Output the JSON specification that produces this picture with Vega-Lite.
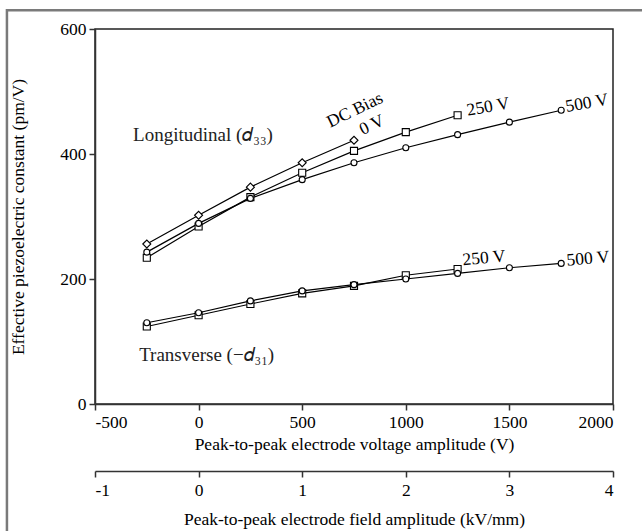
{
  "$schema": "https://vega.github.io/schema/vega-lite/v6.json",
  "width": 518,
  "height": 375,
  "autosize": {"type": "none"},
  "padding": {"left": 95, "top": 29, "right": 29, "bottom": 127},
  "background": "white",
  "config": {
    "view": {"stroke": "#222", "strokeWidth": 1.5},
    "axis": {
      "labelFont": "Liberation Serif", "labelFontSize": 17.5, "labelColor": "black",
      "titleFont": "Liberation Serif", "titleFontSize": 17.5, "titleFontWeight": "normal", "titleColor": "black",
      "domainColor": "#333", "domainWidth": 1.5, "tickColor": "#333", "tickWidth": 1.5, "tickSize": 6, "grid": false
    },
    "text": {"font": "Liberation Serif", "fontSize": 17.5}
  },
  "datasets": {
    "curves": [
      {"group": "Longitudinal", "bias": "0 V", "series": "L0", "voltage": -250, "d": 256},
      {"group": "Longitudinal", "bias": "0 V", "series": "L0", "voltage": 0, "d": 302},
      {"group": "Longitudinal", "bias": "0 V", "series": "L0", "voltage": 250, "d": 347},
      {"group": "Longitudinal", "bias": "0 V", "series": "L0", "voltage": 500, "d": 386},
      {"group": "Longitudinal", "bias": "0 V", "series": "L0", "voltage": 750, "d": 422},
      {"group": "Longitudinal", "bias": "250 V", "series": "L250", "voltage": -250, "d": 234},
      {"group": "Longitudinal", "bias": "250 V", "series": "L250", "voltage": 0, "d": 284},
      {"group": "Longitudinal", "bias": "250 V", "series": "L250", "voltage": 250, "d": 331},
      {"group": "Longitudinal", "bias": "250 V", "series": "L250", "voltage": 500, "d": 370},
      {"group": "Longitudinal", "bias": "250 V", "series": "L250", "voltage": 750, "d": 405},
      {"group": "Longitudinal", "bias": "250 V", "series": "L250", "voltage": 1000, "d": 435},
      {"group": "Longitudinal", "bias": "250 V", "series": "L250", "voltage": 1250, "d": 462},
      {"group": "Longitudinal", "bias": "500 V", "series": "L500", "voltage": -250, "d": 243},
      {"group": "Longitudinal", "bias": "500 V", "series": "L500", "voltage": 0, "d": 289},
      {"group": "Longitudinal", "bias": "500 V", "series": "L500", "voltage": 250, "d": 329},
      {"group": "Longitudinal", "bias": "500 V", "series": "L500", "voltage": 500, "d": 359},
      {"group": "Longitudinal", "bias": "500 V", "series": "L500", "voltage": 750, "d": 386},
      {"group": "Longitudinal", "bias": "500 V", "series": "L500", "voltage": 1000, "d": 410},
      {"group": "Longitudinal", "bias": "500 V", "series": "L500", "voltage": 1250, "d": 431},
      {"group": "Longitudinal", "bias": "500 V", "series": "L500", "voltage": 1500, "d": 451},
      {"group": "Longitudinal", "bias": "500 V", "series": "L500", "voltage": 1750, "d": 470},
      {"group": "Transverse", "bias": "250 V", "series": "T250", "voltage": -250, "d": 124},
      {"group": "Transverse", "bias": "250 V", "series": "T250", "voltage": 0, "d": 142},
      {"group": "Transverse", "bias": "250 V", "series": "T250", "voltage": 250, "d": 160},
      {"group": "Transverse", "bias": "250 V", "series": "T250", "voltage": 500, "d": 177},
      {"group": "Transverse", "bias": "250 V", "series": "T250", "voltage": 750, "d": 189},
      {"group": "Transverse", "bias": "250 V", "series": "T250", "voltage": 1000, "d": 206},
      {"group": "Transverse", "bias": "250 V", "series": "T250", "voltage": 1250, "d": 216},
      {"group": "Transverse", "bias": "500 V", "series": "T500", "voltage": -250, "d": 130},
      {"group": "Transverse", "bias": "500 V", "series": "T500", "voltage": 0, "d": 146},
      {"group": "Transverse", "bias": "500 V", "series": "T500", "voltage": 250, "d": 165},
      {"group": "Transverse", "bias": "500 V", "series": "T500", "voltage": 500, "d": 181},
      {"group": "Transverse", "bias": "500 V", "series": "T500", "voltage": 750, "d": 191},
      {"group": "Transverse", "bias": "500 V", "series": "T500", "voltage": 1000, "d": 200},
      {"group": "Transverse", "bias": "500 V", "series": "T500", "voltage": 1250, "d": 209},
      {"group": "Transverse", "bias": "500 V", "series": "T500", "voltage": 1500, "d": 218},
      {"group": "Transverse", "bias": "500 V", "series": "T500", "voltage": 1750, "d": 225}
    ],
    "notes": [
      {"id": "long", "label": "Longitudinal (𝑑₃₃)", "voltage": 21, "d": 431},
      {"id": "trans", "label": "Transverse (−𝑑₃₁)", "voltage": 39, "d": 78},
      {"id": "dc", "label": "DC Bias", "voltage": 755, "d": 470},
      {"id": "v0", "label": "0 V", "voltage": 837, "d": 446},
      {"id": "v250u", "label": "250 V", "voltage": 1397, "d": 475},
      {"id": "v500u", "label": "500 V", "voltage": 1874, "d": 481},
      {"id": "v250l", "label": "250 V", "voltage": 1377, "d": 233},
      {"id": "v500l", "label": "500 V", "voltage": 1879, "d": 232}
    ]
  },
  "layer": [
    {
      "layer": [
        {
          "data": {"name": "curves"},
          "mark": {"type": "line", "color": "black", "strokeWidth": 1.2},
          "encoding": {
            "x": {"field": "voltage", "type": "quantitative",
                  "scale": {"domain": [-500, 2000], "nice": false, "zero": false},
                  "axis": {"values": [-500, 0, 500, 1000, 1500, 2000], "title": "Peak-to-peak electrode voltage amplitude (V)",
                           "labelPadding": 3, "titlePadding": 5,
                           "labelExpr": "datum.value < 0 ? '-' + abs(datum.value) : '' + datum.value"}},
            "y": {"field": "d", "type": "quantitative",
                  "scale": {"domain": [0, 600], "nice": false, "zero": false},
                  "axis": {"values": [0, 200, 400, 600], "title": "Effective piezoelectric constant (pm/V)",
                           "labelPadding": 3, "titlePadding": 32}},
            "detail": {"field": "series"}
          }
        },
        {
          "data": {"name": "curves"},
          "mark": {"type": "point", "filled": true, "fill": "white", "stroke": "black", "strokeWidth": 1.1, "opacity": 1},
          "encoding": {
            "x": {"field": "voltage", "type": "quantitative"},
            "y": {"field": "d", "type": "quantitative"},
            "shape": {"field": "bias", "type": "nominal",
                      "scale": {"domain": ["0 V", "250 V", "500 V"], "range": ["diamond", "square", "circle"]}, "legend": null},
            "size": {"field": "bias", "type": "ordinal",
                     "scale": {"domain": ["0 V", "250 V", "500 V"], "range": [64, 36, 42]}, "legend": null}
          }
        },
        {
          "data": {"name": "notes"},
          "transform": [{"filter": "datum.id == 'long' || datum.id == 'trans'"}],
          "mark": {"type": "text", "align": "center", "baseline": "middle", "color": "#222", "fontSize": 19},
          "encoding": {
            "x": {"field": "voltage", "type": "quantitative"},
            "y": {"field": "d", "type": "quantitative"},
            "text": {"field": "label"}
          }
        },
        {
          "data": {"name": "notes"},
          "transform": [{"filter": "datum.id == 'dc' || datum.id == 'v0'"}],
          "mark": {"type": "text", "align": "center", "baseline": "middle", "angle": 334, "color": "black"},
          "encoding": {
            "x": {"field": "voltage", "type": "quantitative"},
            "y": {"field": "d", "type": "quantitative"},
            "text": {"field": "label"}
          }
        },
        {
          "data": {"name": "notes"},
          "transform": [{"filter": "datum.id == 'v250u' || datum.id == 'v500u'"}],
          "mark": {"type": "text", "align": "center", "baseline": "middle", "angle": 350, "color": "black"},
          "encoding": {
            "x": {"field": "voltage", "type": "quantitative"},
            "y": {"field": "d", "type": "quantitative"},
            "text": {"field": "label"}
          }
        },
        {
          "data": {"name": "notes"},
          "transform": [{"filter": "datum.id == 'v250l' || datum.id == 'v500l'"}],
          "mark": {"type": "text", "align": "center", "baseline": "middle", "angle": 355, "color": "black"},
          "encoding": {
            "x": {"field": "voltage", "type": "quantitative"},
            "y": {"field": "d", "type": "quantitative"},
            "text": {"field": "label"}
          }
        },
        {
          "data": {"values": [{}]},
          "mark": {"type": "rect", "fillOpacity": 0, "stroke": "#7a7a7a", "strokeWidth": 2.5},
          "encoding": {
            "x": {"datum": -925, "type": "quantitative"},
            "x2": {"datum": 3500},
            "y": {"datum": 630, "type": "quantitative"},
            "y2": {"datum": -300}
          }
        }
      ]
    },
    {
      "data": {"values": [{"kv": -1}, {"kv": 4}]},
      "mark": {"type": "point", "opacity": 0},
      "encoding": {
        "x": {"field": "kv", "type": "quantitative",
              "scale": {"domain": [-1, 4], "nice": false, "zero": false},
              "axis": {"orient": "bottom", "offset": 67, "values": [-1, 0, 1, 2, 3, 4],
                       "title": "Peak-to-peak electrode field amplitude (kV/mm)",
                       "labelPadding": 4, "titlePadding": 12,
                       "labelExpr": "datum.value < 0 ? '-' + abs(datum.value) : '' + datum.value"}}
      }
    }
  ],
  "resolve": {"scale": {"x": "independent"}}
}
